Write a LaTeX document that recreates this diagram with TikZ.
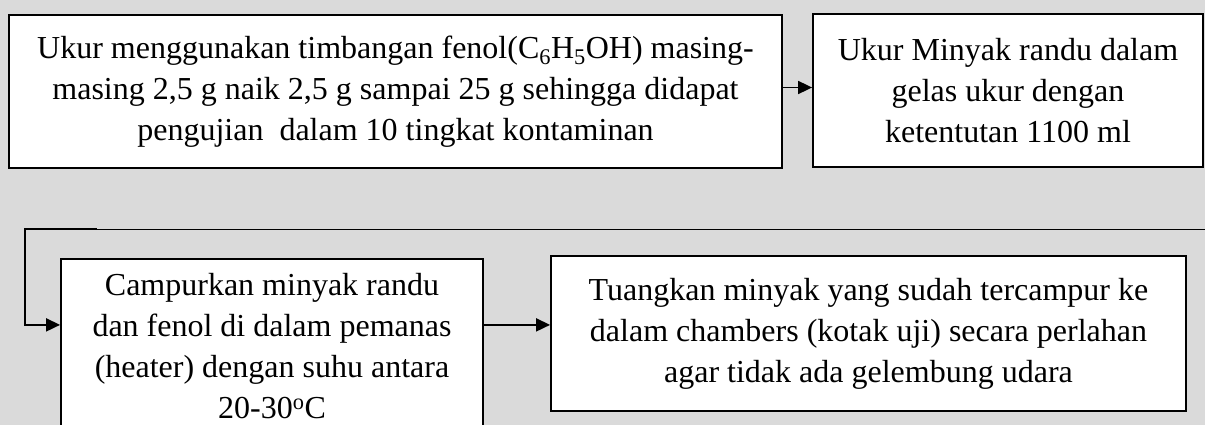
\documentclass[tikz,border=0pt]{standalone}
\usepackage{fontspec}
\setmainfont{Liberation Serif}
\usetikzlibrary{arrows.meta,calc}
\definecolor{bg}{RGB}{218,218,218}
\begin{document}
\begin{tikzpicture}[x=1pt,y=-1pt,
  box/.style={draw=black,line width=1.8pt,fill=white,align=center,
    font=\fontsize{32}{41}\selectfont,inner sep=0pt},
  conn/.style={line width=1.8pt,-{Triangle[length=14pt,width=13pt]}},
  thinline/.style={line width=0.9pt}
]
\useasboundingbox (0,0) rectangle (1205,425);
\clip (0,0) rectangle (1205,425);
\fill[bg] (0,0) rectangle (1205,425);

\node[box,minimum width=773pt,minimum height=153pt] (b1) at (395.5,91.5)
  {Ukur menggunakan timbangan fenol(C\textsubscript{6}H\textsubscript{5}OH) masing-\\
   masing 2,5 g naik 2,5 g sampai 25 g sehingga didapat\\
   pengujian\ \ dalam 10 tingkat kontaminan};

\node[box,minimum width=390pt,minimum height=153pt] (b2) at (1008,90.5)
  {Ukur Minyak randu dalam\\gelas ukur dengan\\ketentutan 1100 ml};

\node[box,minimum width=422pt,minimum height=174pt,anchor=north] (b3) at (272,258)
  {Campurkan minyak randu\\dan fenol di dalam pemanas\\(heater) dengan suhu antara\\20-30\textsuperscript{o}C};

\node[box,minimum width=635pt,minimum height=155pt] (b4) at (868.5,333.5)
  {Tuangkan minyak yang sudah tercampur ke\\dalam chambers (kotak uji) secara perlahan\\agar tidak ada gelembung udara};

\draw[conn] ([yshift=4pt]b1.east) -- ([yshift=4pt]b1.east -| b2.west);

\coordinate (r) at (1210,229);
\coordinate (k) at (97,229);
\coordinate (c) at (25,229);
\draw[thinline] (r) -- (k);
\draw[conn] (k) -- (c) |- ([yshift=21pt]b3.west);

\draw[conn] ([yshift=21pt]b3.east) -- ([yshift=21pt]b3.east -| b4.west);
\end{tikzpicture}
\end{document}
